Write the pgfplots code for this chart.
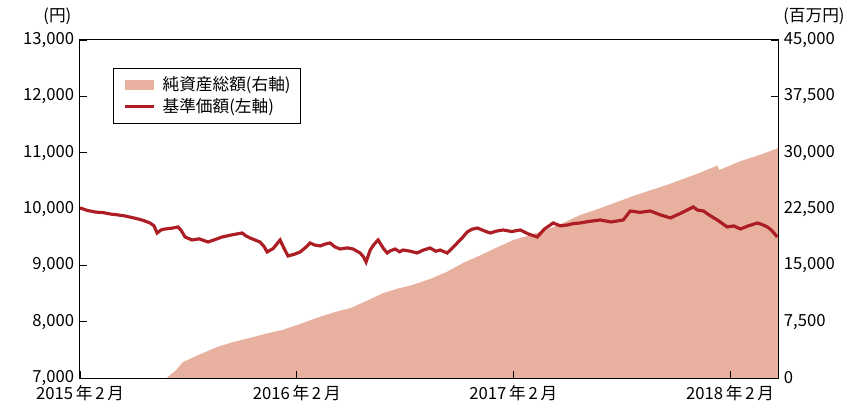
\documentclass[border=0pt]{standalone}
\usepackage{fontspec}
\setmainfont{Noto Sans CJK JP}
\usepackage{pgfplots}
\pgfplotsset{compat=1.18}

\definecolor{assetfill}{RGB}{232,176,158}
\definecolor{navline}{RGB}{172,30,36}

% 純資産総額 (百万円), months since 2015-02
\pgfplotstableread{
m v
0 0
4.8 0
5.3 1000
5.7 2130
6.6 3100
7.6 4130
8.5 4800
9.4 5330
10.3 5900
11.2 6390
12.2 7200
13.1 7990
14.0 8700
15.0 9320
15.9 10300
16.8 11310
17.6 11900
18.4 12380
19.4 13200
20.3 14110
21.2 15300
22.2 16370
23.1 17400
24.0 18370
24.9 19000
25.9 19800
26.8 20700
27.7 21700
28.8 22600
29.7 23400
30.6 24200
31.6 25000
32.5 25700
33.4 26500
34.3 27300
35.3 28300
35.4 27700
36.0 28300
36.6 28900
37.4 29500
38.1 30100
38.65 30600
}\assets

% 基準価額 (円)
\pgfplotstableread{
m v
0 10018
0.4 9975
0.83 9947
1.3 9935
1.7 9910
2.1 9895
2.49 9876
3.0 9840
3.43 9805
3.88 9752
4.1 9700
4.27 9574
4.5 9630
4.71 9645
5.1 9660
5.43 9681
5.6 9620
5.82 9503
6.20 9450
6.6 9470
7.09 9414
7.5 9460
7.87 9503
8.4 9540
8.98 9574
9.2 9520
9.42 9485
9.97 9414
10.2 9330
10.36 9237
10.7 9300
11.08 9450
11.3 9300
11.52 9166
11.9 9200
12.19 9237
12.5 9320
12.74 9397
13.0 9360
13.30 9344
13.6 9380
13.85 9397
14.1 9330
14.40 9290
14.8 9310
15.12 9290
15.51 9219
15.7 9150
15.84 9060
16.07 9272
16.3 9380
16.51 9450
16.8 9300
17.01 9219
17.2 9260
17.45 9290
17.7 9240
17.89 9272
18.3 9250
18.67 9219
19.0 9270
19.39 9308
19.7 9250
19.94 9272
20.33 9219
20.6 9300
20.89 9397
21.2 9500
21.44 9592
21.7 9640
22.00 9663
22.4 9610
22.71 9574
23.1 9610
23.43 9628
23.9 9600
24.38 9628
24.8 9560
25.32 9503
25.7 9640
26.20 9752
26.6 9700
26.98 9716
27.3 9740
27.70 9752
28.2 9780
28.81 9805
29.4 9770
30.08 9805
30.47 9965
31.0 9940
31.58 9965
32.1 9900
32.69 9841
33.3 9930
33.96 10036
34.2 9980
34.52 9965
34.9 9880
35.29 9805
35.84 9681
36.2 9700
36.57 9645
37.0 9700
37.51 9752
37.8 9720
38.06 9681
38.3 9620
38.61 9503
}\nav

\begin{document}
\begin{tikzpicture}
\useasboundingbox (-48pt,-19.2pt) rectangle (462.6pt,226.8pt);
\pgfplotsset{
  every axis/.append style={
    scale only axis, width=418.8pt, height=202.8pt,
    xmin=0, xmax=38.65,
    tick style={black, line width=0.5pt},
    major tick length=4pt,
    scaled ticks=false,
    /pgf/number format/fixed,
    /pgf/number format/assume math mode=true,
    /pgf/number format/1000 sep={,},
    tick label style={font=\fontsize{10}{12}\selectfont},
  }
}
% right axis: net assets
\begin{axis}[
  name=rax,
  axis x line=none,
  axis y line*=right,
  ymin=0, ymax=45000,
  ytick={0,7500,...,45000},
  axis line style={black, line width=0.6pt},
]
\addplot[fill=assetfill, draw=none] table[x=m, y=v] {\assets} \closedcycle;
\end{axis}
% left axis: NAV
\begin{axis}[
  name=lax,
  ymin=7000, ymax=13000,
  ytick={7000,8000,...,13000},
  ytick pos=left,
  xtick pos=bottom,
  xtick={0,12,24,36},
  xticklabels={2015\,年\,2\,月,2016\,年\,2\,月,2017\,年\,2\,月,2018\,年\,2\,月},
  xticklabel style={yshift=-1pt},
  axis line style={black, line width=0.6pt},
  legend style={at={(0.047,0.917)}, anchor=north west, draw=black,
    line width=0.5pt, font=\fontsize{10}{11.5}\selectfont,
    row sep=-1pt, inner xsep=4pt, inner ysep=3pt, cells={anchor=west}},
  legend image code/.code={\draw[#1] (0cm,0cm) -- (0.62cm,0cm);},
]
\addlegendimage{line width=6pt, color=assetfill}
\addlegendentry{純資産総額(右軸)}
\addplot[color=navline, line width=1.9pt] table[x=m, y=v] {\nav};
\addlegendentry{基準価額(左軸)}
\end{axis}
\node[anchor=south east, font=\fontsize{10}{12}\selectfont, inner sep=0pt]
  at ([xshift=-5pt, yshift=9pt]lax.north west) {(円)};
\node[anchor=south west, font=\fontsize{10}{12}\selectfont, inner sep=0pt]
  at ([xshift=3pt, yshift=9pt]lax.north east) {(百万円)};
\end{tikzpicture}
\end{document}
